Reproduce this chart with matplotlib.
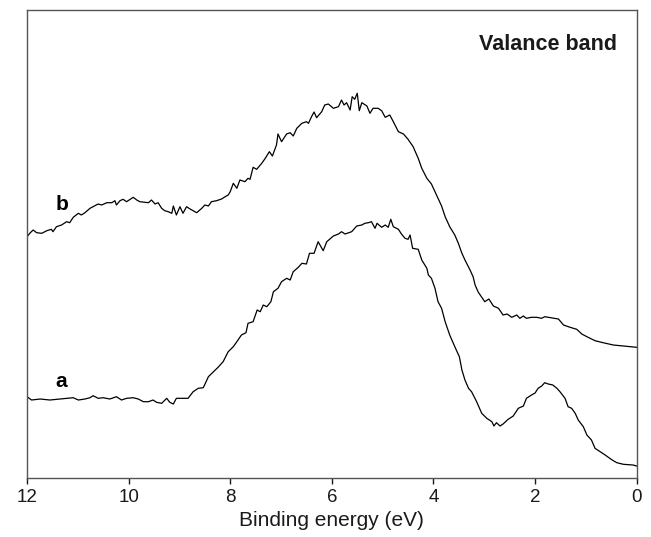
import numpy as np
import matplotlib
matplotlib.use('Agg')
import matplotlib.pyplot as plt

plt.rcParams['font.family'] = ['Liberation Sans', 'DejaVu Sans']

# curve b (upper spectrum): binding energy (eV) and intensity (a.u.)
energy_b = [12.00, 11.94, 11.88, 11.81, 11.71, 11.61, 11.52, 11.49, 11.42, 11.32,
            11.22, 11.16, 11.09, 10.99, 10.93, 10.86, 10.76, 10.70, 10.60, 10.53,
            10.43, 10.33, 10.27, 10.24, 10.17, 10.11, 10.04, 9.97, 9.91, 9.84,
            9.78, 9.68, 9.61, 9.55, 9.48, 9.42, 9.35, 9.29, 9.22, 9.15,
            9.12, 9.06, 8.99, 8.93, 8.86, 8.79, 8.73, 8.66, 8.56, 8.50,
            8.43, 8.37, 8.27, 8.17, 8.10, 8.04, 8.00, 7.94, 7.87, 7.81,
            7.71, 7.65, 7.61, 7.55, 7.48, 7.38, 7.32, 7.23, 7.17, 7.09,
            7.06, 6.99, 6.89, 6.82, 6.76, 6.69, 6.59, 6.50, 6.46, 6.40,
            6.35, 6.30, 6.20, 6.14, 6.07, 5.97, 5.87, 5.81, 5.76, 5.71,
            5.64, 5.60, 5.55, 5.50, 5.46, 5.41, 5.31, 5.25, 5.19, 5.09,
            5.02, 4.95, 4.86, 4.79, 4.69, 4.59, 4.50, 4.40, 4.30, 4.23,
            4.13, 4.04, 3.94, 3.84, 3.77, 3.68, 3.58, 3.51, 3.44, 3.38,
            3.28, 3.22, 3.18, 3.12, 2.99, 2.91, 2.82, 2.72, 2.63, 2.55,
            2.46, 2.36, 2.30, 2.23, 2.17, 2.07, 1.97, 1.87, 1.81, 1.74,
            1.54, 1.44, 1.31, 1.18, 1.08, 0.98, 0.82, 0.66, 0.46, 0.26,
            0.13, 0.00]
intensity_b = [241.0, 244.7, 247.7, 245.0, 244.4, 247.0, 248.4, 246.0, 251.0, 252.7,
               256.0, 255.0, 260.4, 264.4, 262.7, 265.0, 269.4, 271.0, 273.7, 272.7,
               275.0, 275.0, 277.0, 272.7, 277.0, 278.4, 276.0, 278.4, 280.4, 277.7,
               276.0, 275.4, 275.0, 277.7, 273.7, 275.0, 269.4, 267.0, 266.0, 264.4,
               271.7, 262.7, 271.0, 264.4, 271.0, 268.7, 267.0, 265.0, 269.4, 272.7,
               271.7, 276.0, 277.0, 278.7, 281.0, 282.7, 286.0, 294.4, 289.4, 297.7,
               296.0, 299.4, 298.4, 310.4, 308.4, 314.4, 318.7, 326.0, 321.7, 332.7,
               343.7, 336.0, 343.7, 345.0, 341.7, 349.4, 354.4, 356.0, 354.4, 361.0,
               365.7, 360.0, 366.0, 372.7, 373.7, 369.4, 371.0, 377.7, 372.7, 375.0,
               367.7, 381.0, 378.4, 384.4, 367.0, 375.0, 371.7, 364.4, 369.4, 369.4,
               367.0, 360.4, 362.7, 356.0, 346.0, 343.7, 338.4, 331.0, 319.4, 309.4,
               299.4, 293.7, 282.7, 271.7, 261.0, 251.0, 242.7, 234.4, 224.4, 217.7,
               207.7, 201.0, 192.7, 185.7, 176.0, 178.7, 171.7, 169.4, 162.7, 163.7,
               160.4, 162.7, 159.4, 161.7, 159.4, 160.4, 160.4, 159.4, 161.0, 160.4,
               158.7, 152.7, 150.4, 148.4, 143.7, 141.0, 137.0, 135.0, 132.7, 131.7,
               131.0, 130.4]

# curve a (lower spectrum)
energy_a = [12.00, 11.91, 11.74, 11.55, 11.35, 11.22, 11.09, 10.99, 10.86, 10.76,
            10.70, 10.60, 10.50, 10.37, 10.24, 10.14, 10.04, 9.91, 9.81, 9.71,
            9.61, 9.52, 9.45, 9.35, 9.25, 9.19, 9.12, 9.06, 8.93, 8.83,
            8.73, 8.63, 8.53, 8.43, 8.33, 8.24, 8.14, 8.04, 7.94, 7.87,
            7.78, 7.69, 7.65, 7.55, 7.47, 7.41, 7.35, 7.28, 7.20, 7.15,
            7.06, 6.99, 6.89, 6.82, 6.76, 6.66, 6.59, 6.50, 6.44, 6.35,
            6.27, 6.17, 6.10, 5.97, 5.87, 5.81, 5.74, 5.61, 5.51, 5.41,
            5.35, 5.28, 5.22, 5.15, 5.11, 5.02, 4.95, 4.89, 4.84, 4.79,
            4.69, 4.63, 4.56, 4.50, 4.46, 4.41, 4.30, 4.23, 4.13, 4.10,
            4.04, 3.97, 3.91, 3.84, 3.77, 3.68, 3.58, 3.49, 3.44, 3.38,
            3.31, 3.25, 3.15, 3.05, 2.95, 2.85, 2.81, 2.76, 2.69, 2.63,
            2.53, 2.43, 2.33, 2.23, 2.17, 2.07, 2.00, 1.94, 1.87, 1.81,
            1.74, 1.65, 1.57, 1.51, 1.41, 1.35, 1.28, 1.21, 1.15, 1.05,
            0.98, 0.89, 0.82, 0.72, 0.62, 0.53, 0.46, 0.39, 0.26, 0.07,
            0.00]
intensity_a = [81.0, 77.7, 78.7, 77.7, 78.7, 79.4, 80.0, 77.7, 78.7, 80.0,
               82.0, 79.4, 80.0, 78.7, 81.0, 77.7, 79.4, 80.0, 78.7, 76.0,
               76.0, 77.7, 75.4, 74.4, 79.4, 75.4, 73.7, 79.4, 79.4, 79.4,
               86.0, 89.4, 90.0, 101.0, 106.0, 110.4, 116.0, 126.0, 131.0, 136.0,
               142.7, 145.0, 154.4, 156.0, 167.7, 166.0, 172.7, 171.0, 176.0, 186.0,
               189.4, 196.0, 199.4, 197.7, 206.0, 210.4, 214.4, 213.7, 224.4, 224.4,
               236.0, 227.0, 236.0, 241.7, 243.7, 246.0, 243.7, 246.0, 251.7, 252.7,
               254.4, 255.0, 256.0, 249.4, 254.4, 250.4, 252.7, 250.4, 258.4, 251.0,
               248.4, 243.7, 239.4, 238.4, 242.7, 229.4, 228.4, 217.7, 209.4, 202.7,
               199.4, 189.4, 176.0, 169.4, 156.0, 142.7, 131.0, 121.0, 107.7, 97.7,
               89.4, 86.0, 76.0, 64.4, 59.4, 56.0, 51.7, 55.0, 51.7, 53.7,
               58.4, 61.7, 69.4, 71.7, 79.4, 82.7, 84.7, 89.4, 91.7, 95.0,
               93.7, 92.7, 89.4, 86.0, 79.4, 71.0, 69.4, 64.4, 57.7, 51.0,
               42.7, 37.7, 29.4, 26.0, 22.7, 19.4, 17.0, 15.0, 13.4, 12.7,
               11.7]

xticks = [12, 10, 8, 6, 4, 2, 0]

fig = plt.figure(figsize=(6.51, 5.37), dpi=100)
ax = fig.add_axes([0.0415, 0.1104, 0.9365, 0.871])

ax.plot(energy_b, intensity_b, color='black', linewidth=0.9)
ax.plot(energy_a, intensity_a, color='black', linewidth=0.9)

ax.set_xlim(12, 0)
ax.set_ylim(0, 467.7)
ax.set_xticks(xticks)
ax.set_yticks([])
ax.tick_params(axis='x', direction='out', length=4, width=1, labelsize=13.5, pad=4, colors='#1a1a1a')
for s in ax.spines.values():
    s.set_color('#555555')
    s.set_linewidth(1.0)

ax.set_xlabel('Binding energy (eV)', fontsize=15, color='#1a1a1a', labelpad=4)

ax.text(11.32, 272.7, 'b', fontsize=15, fontweight='bold', ha='center', va='center')
ax.text(11.33, 96, 'a', fontsize=15, fontweight='bold', ha='center', va='center')
ax.text(0.39, 432.7, 'Valance band', fontsize=15.5, fontweight='bold', ha='right', va='center',
        color='#1a1a1a')

fig.savefig('out.png', dpi=100)
plt.close()
